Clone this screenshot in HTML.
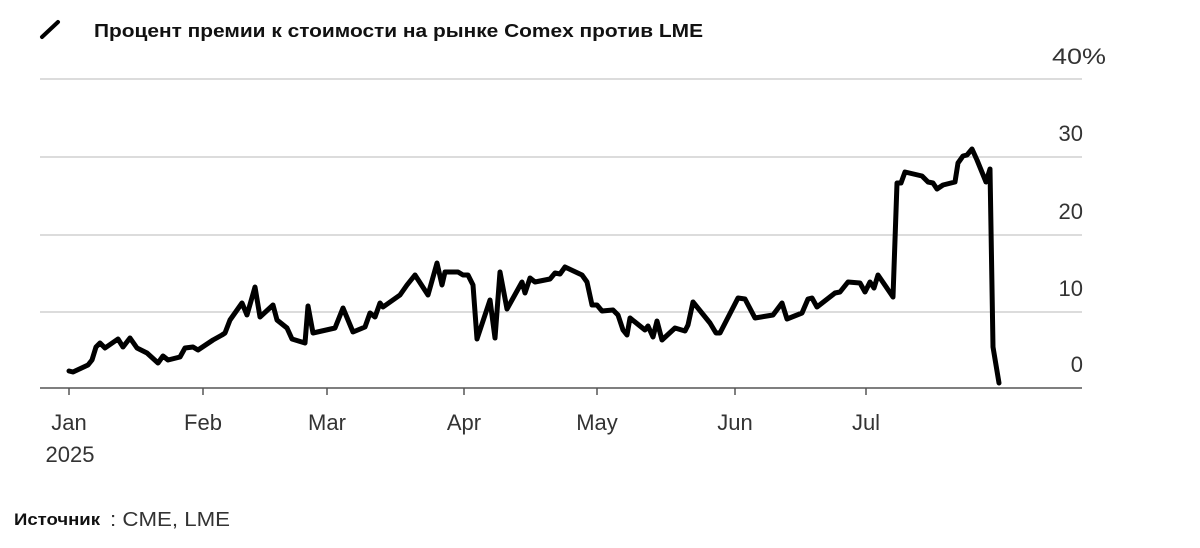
<!DOCTYPE html>
<html><head><meta charset="utf-8"><style>
body{margin:0;background:#fff;width:1200px;height:543px;overflow:hidden;font-family:"Liberation Sans",sans-serif}
</style></head><body>
<svg width="1200" height="543" viewBox="0 0 1200 543" xmlns="http://www.w3.org/2000/svg" font-family="Liberation Sans, sans-serif">
<line x1="42" y1="37" x2="58" y2="22" stroke="#000" stroke-width="4" stroke-linecap="round"/>
<text x="94" y="37" font-size="18.5" font-weight="bold" fill="#111" textLength="609" lengthAdjust="spacingAndGlyphs">Процент премии к стоимости на рынке Comex против LME</text>
<g stroke="#dcdcdc" stroke-width="2">
<line x1="40" y1="79" x2="1082" y2="79"/><line x1="40" y1="157" x2="1082" y2="157"/>
<line x1="40" y1="235" x2="1082" y2="235"/><line x1="40" y1="312" x2="1082" y2="312"/>
</g>
<line x1="40" y1="388" x2="1082" y2="388" stroke="#555" stroke-width="1.5"/>
<g stroke="#555" stroke-width="1.5">
<line x1="69" y1="388" x2="69" y2="395"/><line x1="203" y1="388" x2="203" y2="395"/><line x1="327" y1="388" x2="327" y2="395"/><line x1="464" y1="388" x2="464" y2="395"/><line x1="597" y1="388" x2="597" y2="395"/><line x1="735" y1="388" x2="735" y2="395"/><line x1="866" y1="388" x2="866" y2="395"/>
</g>
<g font-size="22" fill="#333" text-anchor="end">
<text x="1106" y="64" textLength="54" lengthAdjust="spacingAndGlyphs">40%</text><text x="1083" y="141">30</text><text x="1083" y="219">20</text><text x="1083" y="296">10</text><text x="1083" y="372">0</text>
</g>
<g font-size="22" fill="#333" text-anchor="middle">
<text x="69" y="430">Jan</text><text x="70" y="462">2025</text><text x="203" y="430">Feb</text><text x="327" y="430">Mar</text><text x="464" y="430">Apr</text><text x="597" y="430">May</text><text x="735" y="430">Jun</text><text x="866" y="430">Jul</text>
</g>
<polyline fill="none" stroke="#000" stroke-width="5" stroke-linejoin="round" stroke-linecap="round" points="69,371 73,372 88,365 92,360 96,347 100,343 105,348 118,339 123,347 130,338 137,348 147,353 158,363 163,356 168,360 180,357 185,348 193,347 198,350 213,340 222,335 225,333 230,320 242,303 247,315 255,287 260,317 273,305 277,320 287,328 292,339 305,343 308,306 313,333 335,328 343,308 353,332 365,327 370,313 375,317 380,303 383,307 400,295 407,285 415,275 428,295 437,263 442,285 445,272 458,272 463,275 468,275 473,285 477,339 490,300 495,338 500,272 507,309 522,282 525,293 530,278 535,282 550,279 555,273 560,274 565,267 582,275 587,282 592,305 597,305 602,311 613,310 618,315 623,330 627,335 630,318 645,330 648,326 653,337 657,321 662,340 675,328 685,331 688,325 693,302 710,323 716,333 720,333 738,298 745,299 755,318 773,315 782,303 787,319 802,313 808,299 812,298 817,307 835,293 840,292 848,282 860,283 865,292 870,282 874,288 878,275 893,297 897,183 901,183 905,172 922,176 928,182 933,183 937,189 943,185 955,182 958,163 963,156 967,155 972,149 977,160 986,182 990,169 993,347 999,383"/>
<text x="14" y="525" font-size="17" font-weight="bold" fill="#111" textLength="86" lengthAdjust="spacingAndGlyphs">Источник</text>
<text x="110" y="526" font-size="20" fill="#333" textLength="120" lengthAdjust="spacingAndGlyphs">: CME, LME</text>
</svg>
</body></html>
